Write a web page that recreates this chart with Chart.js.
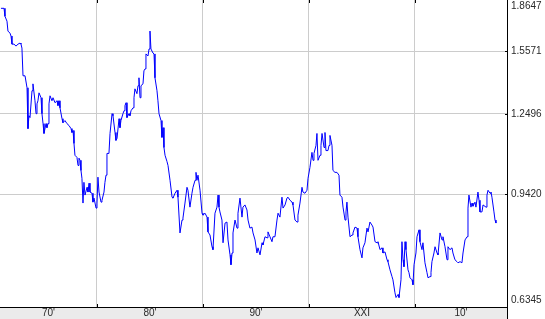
<!DOCTYPE html>
<html>
<head>
<meta charset="utf-8">
<script src="https://cdn.jsdelivr.net/npm/chart.js@4.4.1/dist/chart.umd.min.js"></script>
<style>
  html, body { margin: 0; padding: 0; background: #fff; }
  #wrap { width: 545px; height: 319px; }
</style>
</head>
<body>
<div id="wrap"><canvas id="myChart" width="545" height="319"></canvas></div>
<script>
// USD -> EUR (synthetic before 1999), decimal years
var years = [
  1970.94,1971.23,1971.32,1971.51,1971.60,1971.79,1971.89,1971.98,1972.17,1972.36,
  1972.55,1972.74,1972.83,1972.92,1973.02,1973.21,1973.40,1973.49,1973.58,1973.68,
  1973.87,1973.96,1974.15,1974.25,1974.34,1974.43,1974.53,1974.72,1974.81,1974.91,
  1975.00,1975.19,1975.28,1975.38,1975.47,1975.57,1975.75,1975.85,1976.04,1976.23,
  1976.32,1976.42,1976.51,1976.70,1976.79,1976.98,1977.17,1977.36,1977.55,1977.64,
  1977.74,1977.83,1977.92,1978.11,1978.21,1978.30,1978.40,1978.49,1978.58,1978.68,
  1978.77,1978.87,1979.06,1979.15,1979.25,1979.34,1979.53,1979.62,1979.72,1979.91,
  1980.00,1980.09,1980.19,1980.38,1980.47,1980.66,1980.75,1980.85,1980.94,1981.13,
  1981.23,1981.42,1981.51,1981.70,1981.79,1981.89,1982.08,1982.17,1982.26,1982.45,
  1982.55,1982.64,1982.74,1982.83,1983.02,1983.11,1983.21,1983.40,1983.49,1983.58,
  1983.77,1983.87,1983.96,1984.06,1984.15,1984.34,1984.43,1984.53,1984.62,1984.81,
  1984.91,1985.00,1985.09,1985.28,1985.38,1985.47,1985.66,1985.75,1985.85,1986.04,
  1986.13,1986.23,1986.32,1986.42,1986.60,1986.70,1986.89,1987.08,1987.17,1987.36,
  1987.55,1987.64,1987.83,1988.02,1988.11,1988.30,1988.49,1988.58,1988.77,1988.96,
  1989.06,1989.25,1989.34,1989.43,1989.53,1989.72,1989.91,1990.00,1990.19,1990.38,
  1990.47,1990.66,1990.85,1990.94,1991.13,1991.32,1991.42,1991.51,1991.60,1991.79,
  1991.89,1992.08,1992.26,1992.36,1992.55,1992.64,1992.74,1992.83,1993.02,1993.21,
  1993.30,1993.49,1993.68,1993.77,1993.96,1994.15,1994.25,1994.43,1994.62,1994.72,
  1994.91,1995.09,1995.19,1995.38,1995.57,1995.66,1995.85,1996.04,1996.13,1996.32,
  1996.51,1996.60,1996.79,1996.98,1997.08,1997.26,1997.45,1997.55,1997.74,1997.92,
  1998.02,1998.21,1998.40,1998.49,1998.68,1998.87,1998.96,1999.15,1999.34,1999.43,
  1999.62,1999.81,1999.91,2000.09,2000.28,2000.38,2000.47,2000.66,2000.75,2000.85,
  2001.04,2001.13,2001.23,2001.42,2001.51,2001.60,2001.79,2001.89,2001.98,2002.17,
  2002.26,2002.45,2002.64,2002.83,2002.92,2003.11,2003.21,2003.40,2003.49,2003.58,
  2003.68,2003.87,2004.06,2004.15,2004.34,2004.53,2004.62,2004.81,2005.00,2005.09,
  2005.28,2005.47,2005.57,2005.75,2005.94,2006.04,2006.23,2006.42,2006.51,2006.70,
  2006.89,2006.98,2007.17,2007.36,2007.45,2007.64,2007.83,2007.92,2008.11,2008.21,
  2008.40,2008.49,2008.68,2008.77,2008.87,2008.96,2009.06,2009.15,2009.34,2009.43,
  2009.53,2009.72,2009.81,2009.91,2010.09,2010.19,2010.38,2010.47,2010.66,2010.75,
  2010.94,2011.13,2011.23,2011.42,2011.51,2011.60,2011.79,2011.89,2012.08,2012.17,
  2012.36,2012.45,2012.55,2012.64,2012.83,2013.02,2013.11,2013.30,2013.49,2013.58,
  2013.77,2013.96,2014.06,2014.25,2014.43,2014.53,2014.72,2014.91,2015.00,2015.09,
  2015.28,2015.38,2015.47,2015.66,2015.75,2015.94,2016.04,2016.13,2016.32,2016.42,
  2016.51,2016.70,2016.79,2016.89,2017.08,2017.17,2017.26,2017.45,2017.55,2017.64
]

var rates = [
  1.811,1.811,1.761,1.731,1.672,1.660,1.643,1.597,1.597,1.586,
  1.597,1.603,1.597,1.575,1.429,1.429,1.370,1.187,1.242,1.234,
  1.356,1.389,1.309,1.251,1.295,1.309,1.346,1.323,1.251,1.208,
  1.167,1.208,1.191,1.208,1.295,1.332,1.309,1.323,1.300,1.309,
  1.287,1.309,1.277,1.229,1.212,1.221,1.208,1.200,1.187,1.171,
  1.179,1.127,1.081,1.073,1.043,1.070,1.062,1.025,0.997,0.914,
  0.983,0.940,0.966,0.950,0.980,0.950,0.946,0.917,0.930,0.898,
  0.914,1.001,0.950,0.917,0.923,0.950,0.983,1.008,1.088,1.088,
  1.167,1.251,1.242,1.171,1.139,1.147,1.229,1.191,1.221,1.251,
  1.264,1.287,1.300,1.234,1.251,1.242,1.264,1.277,1.323,1.365,
  1.342,1.380,1.419,1.323,1.380,1.389,1.454,1.464,1.543,1.532,
  1.570,1.672,1.570,1.548,1.543,1.419,1.356,1.309,1.251,1.221,
  1.151,1.191,1.111,1.081,1.058,1.043,0.990,0.933,0.930,0.946,
  0.956,0.933,0.823,0.861,0.867,0.914,0.966,0.956,0.901,0.946,
  0.966,0.990,1.018,0.990,1.008,0.956,0.882,0.876,0.882,0.870,
  0.826,0.817,0.784,0.776,0.882,0.901,0.940,0.901,0.886,0.861,
  0.795,0.852,0.855,0.803,0.762,0.736,0.767,0.823,0.861,0.837,
  0.882,0.930,0.870,0.901,0.908,0.892,0.861,0.837,0.840,0.823,
  0.803,0.767,0.781,0.762,0.795,0.789,0.812,0.809,0.826,0.812,
  0.798,0.812,0.812,0.861,0.882,0.870,0.933,0.898,0.908,0.930,
  0.933,0.923,0.917,0.908,0.861,0.855,0.876,0.914,0.966,0.950,
  0.946,0.956,0.997,1.036,1.092,1.062,1.088,1.119,1.167,1.062,
  1.081,1.119,1.167,1.111,1.171,1.099,1.099,1.119,1.159,1.119,
  1.025,1.018,1.018,1.008,0.940,0.933,0.901,0.861,0.886,0.917,
  0.870,0.812,0.817,0.823,0.840,0.837,0.812,0.776,0.754,0.781,
  0.795,0.837,0.826,0.855,0.846,0.840,0.798,0.795,0.798,0.776,
  0.781,0.767,0.770,0.749,0.744,0.723,0.706,0.698,0.667,0.656,
  0.663,0.656,0.698,0.798,0.749,0.731,0.798,0.776,0.723,0.716,
  0.703,0.698,0.686,0.736,0.767,0.812,0.832,0.798,0.776,0.795,
  0.741,0.716,0.703,0.706,0.716,0.744,0.767,0.784,0.767,0.762,
  0.823,0.823,0.803,0.812,0.784,0.749,0.784,0.776,0.781,0.767,
  0.749,0.744,0.741,0.744,0.741,0.767,0.803,0.812,0.898,0.940,
  0.901,0.914,0.904,0.917,0.901,0.950,0.923,0.886,0.886,0.908,
  0.908,0.901,0.940,0.956,0.946,0.950,0.933,0.886,0.861,0.852
]

// axis ticks
var yTicks = [0.6345, 0.9420, 1.2496, 1.5571, 1.8647]
var decades = [1970, 1980, 1990, 2000, 2010]
var decadeLabels = ["70'", "80'", "90'", "XXI", "10'"]
var xMin = 1970.85
var xMax = 2018.68

var points = []
for (var i = 0; i < years.length; i++) {
    points.push({x : years[i], y : rates[i]})
}

var labelFont = "10px 'Liberation Sans', Arial, sans-serif"
var labelColor = "#2a2a2a"

var decorate = {
    id : 'decorate',
    beforeDraw : function(chart){
        var ctx = chart.ctx
        var a = chart.chartArea
        ctx.save()
        ctx.fillStyle = "#ffffff"
        ctx.fillRect(0, 0, chart.width, chart.height)
        ctx.fillStyle = "#ebebeb"
        ctx.fillRect(0, a.bottom, a.right, chart.height - a.bottom)
        ctx.restore()
    },
    afterDraw : function(chart){
        var ctx = chart.ctx
        var a = chart.chartArea
        var xs = chart.scales.x
        var ys = chart.scales.y
        ctx.save()

        // small black tick marks inside the plot, right axis runs down through the band
        ctx.strokeStyle = "#000"
        ctx.lineWidth = 1
        ctx.beginPath()
        for (var d = 1; d < decades.length; d++) {
            var px = Math.round(xs.getPixelForValue(decades[d])) + 0.5
            ctx.moveTo(px, a.top)
            ctx.lineTo(px, a.top + 3)
            ctx.moveTo(px, a.bottom - 3)
            ctx.lineTo(px, a.bottom)
        }
        for (var t = 1; t < yTicks.length - 1; t++) {
            var py = Math.round(ys.getPixelForValue(yTicks[t])) + 0.5
            ctx.moveTo(a.right - 2, py)
            ctx.lineTo(a.right, py)
        }
        ctx.moveTo(a.right + 0.5, a.bottom)
        ctx.lineTo(a.right + 0.5, chart.height)
        ctx.stroke()

        ctx.font = labelFont
        ctx.fillStyle = labelColor

        // y labels on the right, kept inside the plot height
        ctx.textAlign = "left"
        ctx.textBaseline = "middle"
        for (var k = 0; k < yTicks.length; k++) {
            var y = ys.getPixelForValue(yTicks[k])
            y = Math.max(a.top + 6, Math.min(a.bottom - 7, y))
            ctx.fillText(yTicks[k].toFixed(4), a.right + 4, y)
        }

        // decade labels centred in the visible part of each decade
        ctx.textAlign = "center"
        for (var j = 0; j < decades.length; j++) {
            var from = Math.max(decades[j], xMin)
            var to = Math.min(decades[j] + 10, xMax)
            var cx = (xs.getPixelForValue(from) + xs.getPixelForValue(to)) / 2
            ctx.fillText(decadeLabels[j], cx, a.bottom + 6)
        }
        ctx.restore()
    }
}

var myChart = document.getElementById("myChart").getContext('2d')

var chart = new Chart(myChart, {
    type : 'line',
    data : {
        datasets : [
            {
                label : "USD/EUR",
                data : points,
                borderColor : "#0000ff",
                borderWidth : 1,
                pointRadius : 0,
                fill : false,
                tension : 0
            }
        ]
    },
    options : {
        responsive : false,
        animation : false,
        devicePixelRatio : 1,
        layout : { padding : 0 },
        plugins : {
            legend : { display : false },
            tooltip : { enabled : false }
        },
        scales : {
            x : {
                type : 'linear',
                position : 'bottom',
                bounds : 'data',
                min : xMin,
                max : xMax,
                afterBuildTicks : function(scale){
                    scale.ticks = decades.slice(1).map(function(v){ return {value : v} })
                },
                afterFit : function(scale){ scale.height = 12 },
                ticks : { display : false },
                grid : { color : "#cccccc", lineWidth : 1, drawTicks : false },
                border : { display : true, color : "#000", width : 1 }
            },
            y : {
                type : 'logarithmic',
                position : 'right',
                bounds : 'data',
                min : yTicks[0],
                max : yTicks[yTicks.length - 1],
                afterBuildTicks : function(scale){
                    scale.ticks = yTicks.map(function(v){ return {value : v} })
                },
                afterFit : function(scale){ scale.width = 38 },
                ticks : { display : false },
                grid : {
                    color : function(c){
                        return (c.index === 0 || c.index === yTicks.length - 1) ? "rgba(0,0,0,0)" : "#cccccc"
                    },
                    lineWidth : 1,
                    drawTicks : false
                },
                border : { display : true, color : "#000", width : 1 }
            }
        }
    },
    plugins : [decorate]
})
</script>
</body>
</html>
